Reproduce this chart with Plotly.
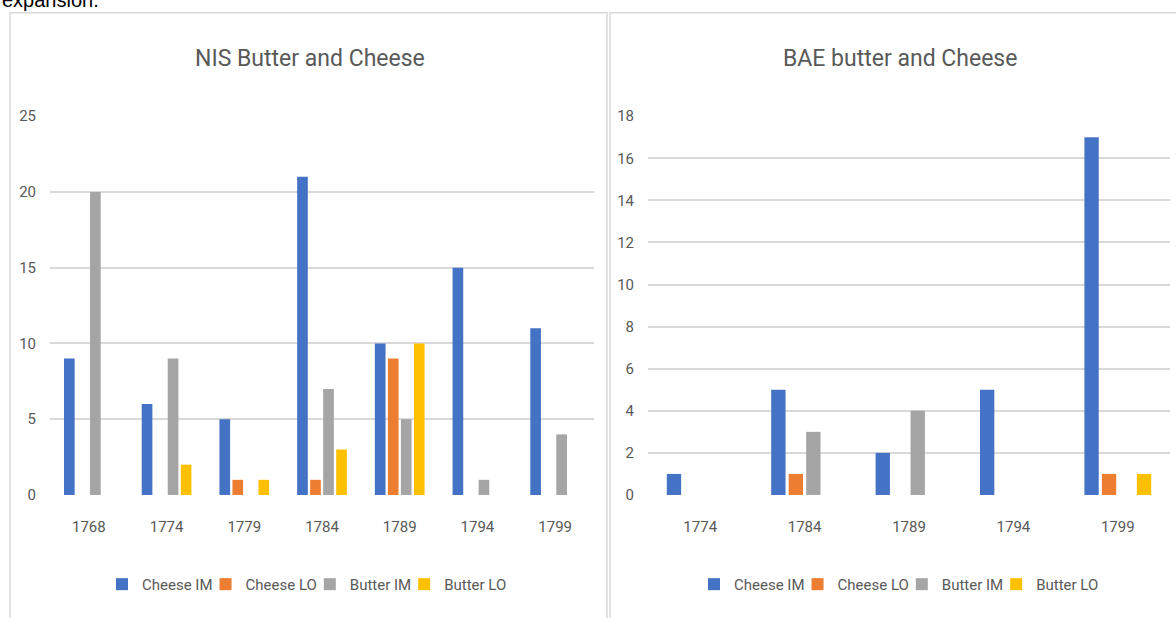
import plotly.graph_objects as go

# ---- data ----
nis_years = ["1768", "1774", "1779", "1784", "1789", "1794", "1799"]
nis_cheese_im = [9, 6, 5, 21, 10, 15, 11]
nis_cheese_lo = [0, 0, 1, 1, 9, 0, 0]
nis_butter_im = [20, 9, 0, 7, 5, 1, 4]
nis_butter_lo = [0, 2, 1, 3, 10, 0, 0]

bae_years = ["1774", "1784", "1789", "1794", "1799"]
bae_cheese_im = [1, 5, 2, 5, 17]
bae_cheese_lo = [0, 1, 0, 0, 1]
bae_butter_im = [0, 3, 4, 0, 0]
bae_butter_lo = [0, 0, 0, 0, 1]

series_names = ["Cheese IM", "Cheese LO", "Butter IM", "Butter LO"]
colors = ["#4472C4", "#ED7D31", "#A5A5A5", "#FFC000"]

W = 1176
H = 628          # figure height in px
Y0, YS = 8.2, 0.972   # page row = Y0 + YS * figure row
FONT = "Roboto, Liberation Sans, sans-serif"
TXT = "#595959"
GRID = "#D9D9D9"


def px_x(x):
    return x / W


def px_y(y):
    # page pixel row -> paper fraction
    return 1 - ((y - Y0) / YS) / H


fig = go.Figure()

nis_vals = [nis_cheese_im, nis_cheese_lo, nis_butter_im, nis_butter_lo]
bae_vals = [bae_cheese_im, bae_cheese_lo, bae_butter_im, bae_butter_lo]

for name, col, vals in zip(series_names, colors, nis_vals):
    fig.add_trace(go.Bar(x=nis_years, y=vals, name=name, marker=dict(color=col, line=dict(width=0)),
                         xaxis="x", yaxis="y", legend="legend"))
for name, col, vals in zip(series_names, colors, bae_vals):
    fig.add_trace(go.Bar(x=bae_years, y=vals, name=name, marker=dict(color=col, line=dict(width=0)),
                         xaxis="x2", yaxis="y2", legend="legend2"))

ydom = [px_y(494.5), px_y(115.5)]

common_x = dict(type="category", showgrid=False, zeroline=False, showline=False, ticks="",
                tickfont=dict(family=FONT, size=15, color=TXT), ticklabelstandoff=21, fixedrange=True)
common_y = dict(showgrid=True, gridcolor=GRID, gridwidth=2, zeroline=False, showline=False,
                ticks="", tickfont=dict(family=FONT, size=15, color=TXT), ticklabelstandoff=13,
                fixedrange=True)

legend_style = dict(orientation="h", xanchor="center", y=px_y(584), yanchor="middle",
                    font=dict(family=FONT, size=15, color=TXT), itemwidth=30, indentation=-12,
                    traceorder="normal", bgcolor="rgba(0,0,0,0)")

fig.update_layout(
    width=W, height=H, autosize=False,
    margin=dict(l=0, r=0, t=0, b=0),
    paper_bgcolor="white", plot_bgcolor="white",
    barmode="group", bargap=0.33, bargroupgap=0.18,
    xaxis=dict(domain=[px_x(50), px_x(594)], anchor="y", **common_x),
    yaxis=dict(domain=ydom, anchor="x", range=[0, 25], dtick=5, **common_y),
    xaxis2=dict(domain=[px_x(648), px_x(1170)], anchor="y2", **common_x),
    yaxis2=dict(domain=ydom, anchor="x2", range=[0, 18], dtick=2, **common_y),
    legend=dict(x=px_x(313), **legend_style),
    legend2=dict(x=px_x(905), **legend_style),
    showlegend=True,
)

# chart frames
fig.add_shape(type="rect", xref="paper", yref="paper", x0=px_x(10), x1=px_x(607), y0=-0.05, y1=px_y(12),
              line=dict(color=GRID, width=1.5), fillcolor="rgba(0,0,0,0)", layer="below")
fig.add_shape(type="rect", xref="paper", yref="paper", x0=px_x(610), x1=1.05, y0=-0.05, y1=px_y(12),
              line=dict(color=GRID, width=1.5), fillcolor="rgba(0,0,0,0)", layer="below")

# titles
fig.add_annotation(text="NIS Butter and Cheese", xref="paper", yref="paper", x=px_x(310), y=px_y(58),
                   xanchor="center", yanchor="middle", showarrow=False,
                   font=dict(family=FONT, size=23, color=TXT))
fig.add_annotation(text="BAE butter and Cheese", xref="paper", yref="paper", x=px_x(900), y=px_y(58),
                   xanchor="center", yanchor="middle", showarrow=False,
                   font=dict(family=FONT, size=23, color=TXT))

# running text line above the charts
fig.add_annotation(text="expansion.", xref="paper", yref="paper", x=0, y=1, xanchor="left",
                   yanchor="bottom", yshift=-4, showarrow=False,
                   font=dict(family="Liberation Sans, Arial, sans-serif", size=20, color="#000000"))

fig.write_html("out.html")
